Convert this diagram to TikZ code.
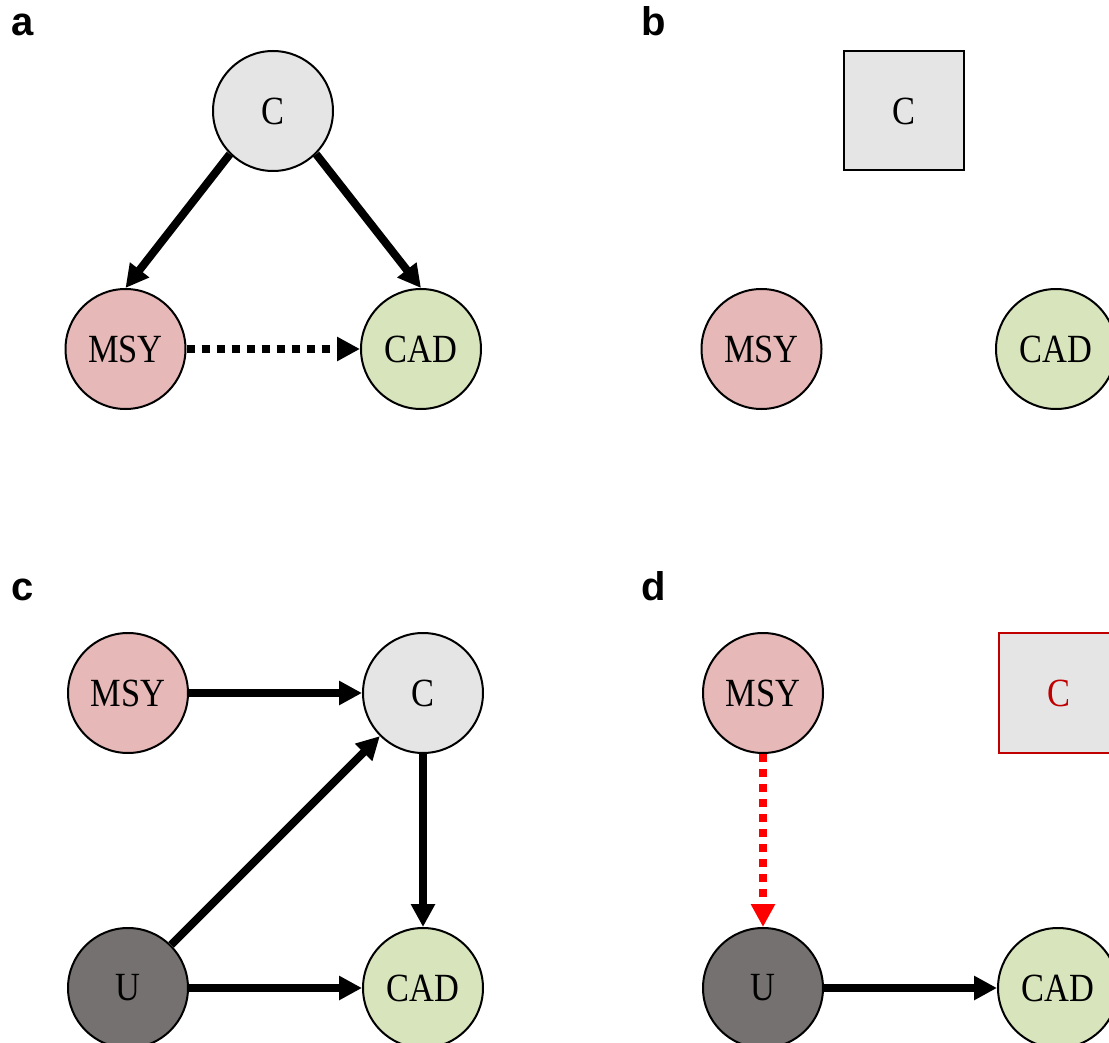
\documentclass[tikz,border=0pt]{standalone}
\usepackage{fontspec}
\usetikzlibrary{arrows.meta}
\newfontfamily\nodefont[FakeStretch=0.86]{Liberation Serif}
\newfontfamily\labfont{Liberation Sans}
\definecolor{cgray}{HTML}{E5E5E5}
\definecolor{msypink}{HTML}{E6B8B7}
\definecolor{cadgreen}{HTML}{D8E4BC}
\definecolor{udark}{HTML}{767171}
\definecolor{darkred}{HTML}{C00000}
\tikzset{
  circ/.style={circle, draw=black, line width=2pt, minimum size=120pt, inner sep=0pt,
    font=\nodefont\fontsize{40}{48}\selectfont},
  sq/.style={rectangle, draw=black, line width=2pt, minimum width=120pt, minimum height=119pt, inner sep=0pt,
    font=\nodefont\fontsize{40}{48}\selectfont},
  panellab/.style={anchor=base west, inner sep=0pt, font=\labfont\bfseries\fontsize{40}{48}\selectfont},
  arr/.style={line width=8pt, -{Triangle[length=23pt,width=23pt]}},
  dotarr/.style={line width=8pt, dash pattern=on 8pt off 7pt, -{Triangle[length=23pt,width=23pt]}}
}
\begin{document}
\begin{tikzpicture}[x=1pt,y=-1pt]
\useasboundingbox (0,0) rectangle (1109,1043);
\clip (0,0) rectangle (1109,1043);
\fill[white] (0,0) rectangle (1109,1043);
% panel labels
\node[panellab] (la) at (11,36) {a};
\node[panellab] (lb) at (641,36) {b};
\node[panellab] (lc) at (11,600) {c};
\node[panellab] (ld) at (641,600) {d};
% panel a
\node[circ, fill=cgray] (aC) at (273,111) {C};
\node[circ, fill=msypink] (aM) at (125.5,349) {MSY};
\node[circ, fill=cadgreen] (aD) at (421,349) {CAD};
\draw[arr] (aC.south west) -- (aM.north);
\draw[arr] (aC.south east) -- (aD.north);
\draw[dotarr] (aM.east) -- (aD.west);
% panel b
\node[sq, fill=cgray] (bC) at (903.5,111) {C};
\node[circ, fill=msypink] (bM) at (761.5,349) {MSY};
\node[circ, fill=cadgreen] (bD) at (1056,349) {CAD};
% panel c
\node[circ, fill=msypink] (cM) at (128,693) {MSY};
\node[circ, fill=cgray] (cC) at (423,693) {C};
\node[circ, fill=udark] (cU) at (128,988) {U};
\node[circ, fill=cadgreen] (cD) at (423,988) {CAD};
\draw[arr] (cM.east) -- (cC.west);
\draw[arr] (cU.north east) -- (cC.south west);
\draw[arr] (cC.south) -- (cD.north);
\draw[arr] (cU.east) -- (cD.west);
% panel d
\node[circ, fill=msypink] (dM) at (763,693) {MSY};
\node[sq, fill=cgray, draw=darkred, text=darkred, minimum height=120pt] (dC) at (1058.5,693) {C};
\node[circ, fill=udark] (dU) at (763,988) {U};
\node[circ, fill=cadgreen] (dD) at (1058,988) {CAD};
\draw[dotarr, red] (dM.south) -- (dU.north);
\draw[arr] (dU.east) -- (dD.west);
\end{tikzpicture}
\end{document}
